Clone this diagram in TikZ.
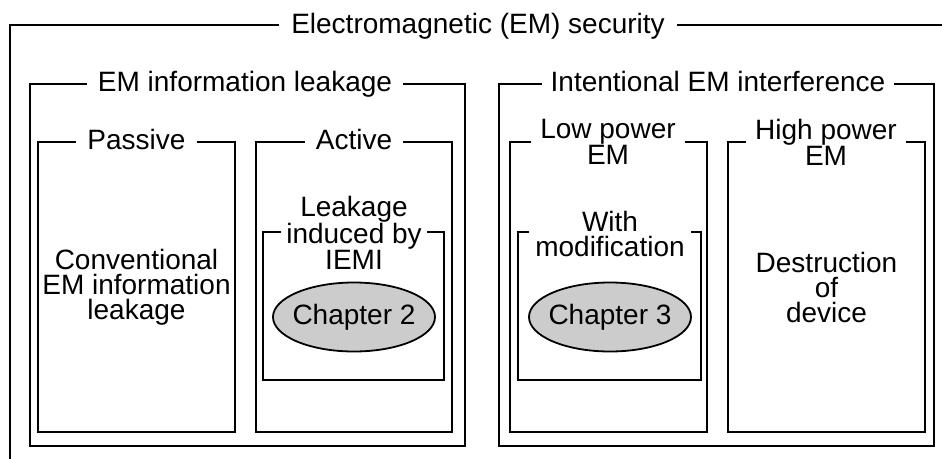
\documentclass[tikz,border=0pt]{standalone}
\usepackage{fontspec}
\setmainfont{Liberation Sans}
\usetikzlibrary{shapes.geometric}
\definecolor{chapfill}{RGB}{204,204,204}
\begin{document}
\begin{tikzpicture}[x=1pt,y=-1pt,
  font=\fontsize{28}{25}\selectfont,
  frame/.style={draw, line width=1.8pt, inner sep=0pt},
  title/.style={fill=white, inner xsep=#1, inner ysep=1pt, anchor=base},
  title/.default=11pt,
  mtitle/.style={fill=white, inner xsep=#1, inner ysep=0pt, align=center},
  mtitle/.default=9pt,
  chap/.style={ellipse, draw, line width=1.8pt, fill=chapfill,
               minimum width=162pt, minimum height=69pt, inner sep=0pt}]
  \useasboundingbox (0,0) rectangle (942,458);

  % outermost frame: top rule and left rule only
  \coordinate (secR) at (942,25);
  \coordinate (secTL) at (10,25);
  \coordinate (secBL) at (10,460);
  \draw[line width=1.8pt] (secR) -- (secTL) -- (secBL);
  \node[title=12pt] (sec) at (478,33) {Electromagnetic (EM) security};

  % EM information leakage branch
  \node[frame, minimum width=435pt, minimum height=362pt] (leak) at (247.5,265) {};
  \node[title] (leakT) at (245,91) {EM information leakage};

  \node[frame, minimum width=197pt, minimum height=290pt] (passive) at (136.5,287) {};
  \node[title] (passiveT) at (136.5,149) {Passive};
  \node[align=center] (conv) at (passive.center) {Conventional\\EM information\\leakage};

  \node[frame, minimum width=196pt, minimum height=290pt] (active) at (354,287) {};
  \node[title] (activeT) at (354,149) {Active};
  \node[frame, minimum width=181pt, minimum height=148pt] (induced) at (353.5,306) {};
  \node[mtitle=5pt] (inducedT) at (354,233) {Leakage\\induced by\\IEMI};
  \node[chap] (ch2) at (354,317) {};
  \node (ch2T) at (ch2.center) {Chapter 2};

  % Intentional EM interference branch
  \node[frame, minimum width=435pt, minimum height=362pt] (iemi) at (716.5,265) {};
  \node[title=9pt] (iemiT) at (718,91) {Intentional EM interference};

  \node[frame, minimum width=197pt, minimum height=290pt] (low) at (608.5,287) {};
  \node[mtitle] (lowT) at (608,142) {Low power\\EM};
  \node[frame, minimum width=183pt, minimum height=148pt] (mod) at (609.5,306) {};
  \node[mtitle=6pt] (modT) at (610,234) {With\\modification};
  \node[chap] (ch3) at (610,317) {};
  \node (ch3T) at (ch3.center) {Chapter 3};

  \node[frame, minimum width=197pt, minimum height=290pt] (high) at (826.5,287) {};
  \node[mtitle] (highT) at (826,142) {High power\\EM};
  \node[align=center] (destr) at (high.center) {Destruction\\of\\device};
\end{tikzpicture}
\end{document}
